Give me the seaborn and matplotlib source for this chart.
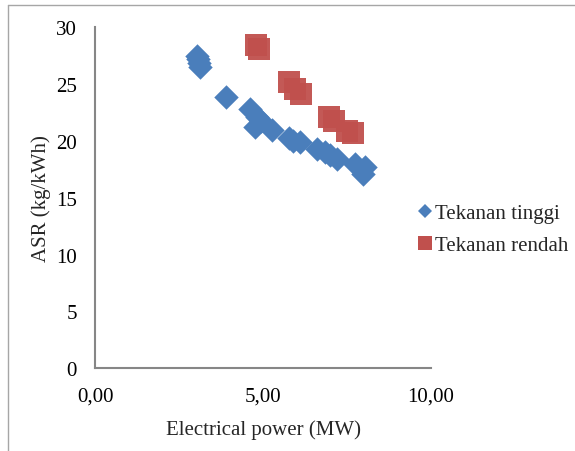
import matplotlib
matplotlib.use("Agg")
import matplotlib.pyplot as plt
import seaborn as sns
import pandas as pd
from matplotlib.lines import Line2D
from matplotlib.ticker import FuncFormatter

# Data
tinggi_power = [3.05, 3.08, 3.10, 3.13, 3.90, 4.60, 4.82, 4.77, 4.95, 5.26, 5.76, 5.90, 6.11,
                6.60, 6.85, 7.00, 7.20, 7.74, 8.04, 7.99]
tinggi_asr = [27.5, 27.2, 26.9, 26.5, 23.9, 22.8, 22.1, 21.2, 21.8, 21.0, 20.3, 20.0, 19.9,
              19.3, 19.0, 18.8, 18.4, 18.0, 17.7, 17.1]
rendah_power = [4.80, 4.87, 5.76, 5.96, 6.14, 6.95, 7.10, 7.50, 7.68]
rendah_asr = [28.4, 28.1, 25.2, 24.6, 24.1, 22.1, 21.8, 20.9, 20.7]
series_names = ["Tekanan tinggi", "Tekanan rendah"]
x_ticks = [0, 5, 10]
y_ticks = [0, 5, 10, 15, 20, 25, 30]

df = pd.DataFrame({
    "power": tinggi_power + rendah_power,
    "asr": tinggi_asr + rendah_asr,
    "series": [series_names[0]] * len(tinggi_power) + [series_names[1]] * len(rendah_power),
})

sns.set_theme(style="white")
plt.rcParams["font.family"] = ["Liberation Serif", "DejaVu Serif"]

blue = "#4A7EBB"
red = "#C0504D"

fig = plt.figure(figsize=(5.75, 4.52), dpi=100)
ax = fig.add_axes([95 / 575, 1 - 369.3 / 452, (431 - 95) / 575, (369.3 - 28.3) / 452])

sub_t = df[df.series == series_names[0]]
sub_r = df[df.series == series_names[1]]
sns.scatterplot(data=sub_t, x="power", y="asr", marker="D", s=155, color=blue,
                linewidth=0, ax=ax, legend=False, zorder=3)
sns.scatterplot(data=sub_r, x="power", y="asr", marker="s", s=270, color=red,
                linewidth=0, ax=ax, legend=False, zorder=2, alpha=0.95)

ax.set_xlim(0, 10)
ax.set_ylim(0, 30)
ax.set_xticks(x_ticks)
ax.set_yticks(y_ticks)
ax.xaxis.set_major_formatter(FuncFormatter(lambda v, p: f"{v:.2f}".replace(".", ",")))
ax.tick_params(axis="both", length=0, labelsize=15, colors="black")
ax.tick_params(axis="x", pad=13)
ax.tick_params(axis="y", pad=13)
for s in ["top", "right"]:
    ax.spines[s].set_visible(False)
for s in ["left", "bottom"]:
    ax.spines[s].set_color("#868686")
    ax.spines[s].set_linewidth(1.5)
ax.grid(False)
ax.set_xlabel("Electrical power (MW)", fontsize=15, labelpad=10)
ax.set_ylabel("ASR (kg/kWh)", fontsize=15, labelpad=4)

handles = [
    Line2D([], [], marker="D", linestyle="", color=blue, markersize=7, markeredgewidth=0),
    Line2D([], [], marker="s", linestyle="", color=red, markersize=10, markeredgewidth=0),
]
fig.legend(handles, series_names, loc="upper left", bbox_to_anchor=(410 / 575, 1 - 196 / 452),
           frameon=False, fontsize=15, handlelength=0.6, handletextpad=0.2, labelspacing=0.6,
           borderaxespad=0)

# outer chart frame
fig.add_artist(Line2D([7.5 / 575, 7.5 / 575], [0, 1 - 6 / 452], transform=fig.transFigure,
                      color="#A6A6A6", linewidth=1))
fig.add_artist(Line2D([7.5 / 575, 1], [1 - 6 / 452, 1 - 6 / 452], transform=fig.transFigure,
                      color="#A6A6A6", linewidth=1))

fig.savefig("out.png", dpi=100)
